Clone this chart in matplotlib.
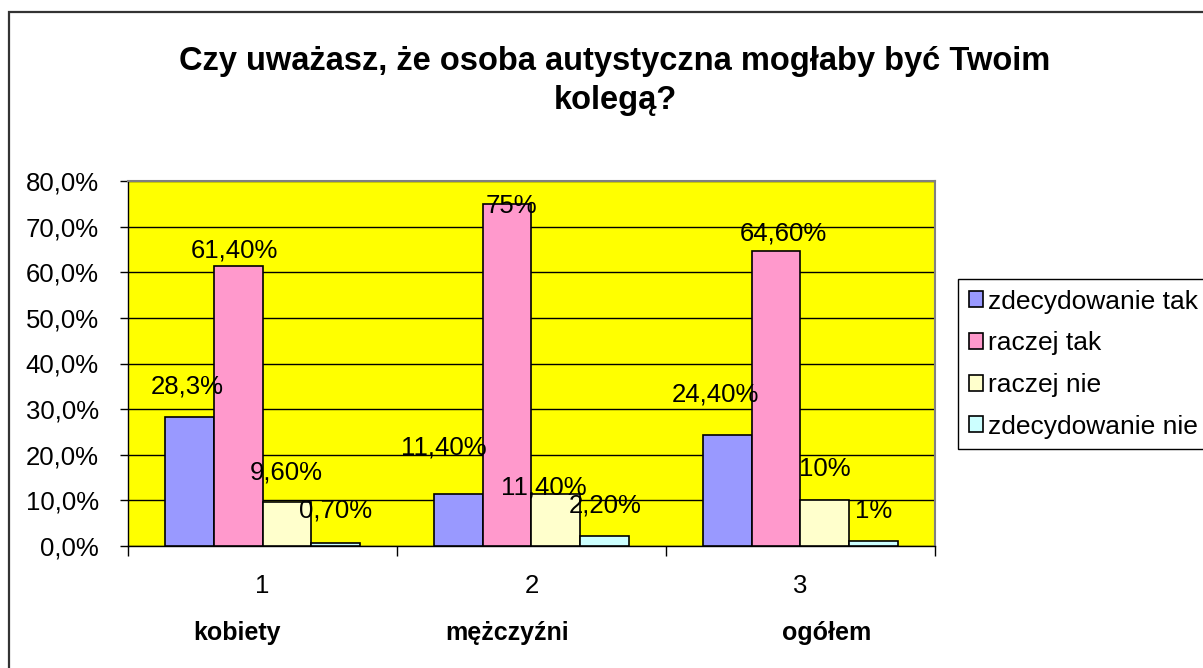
import matplotlib
matplotlib.use("Agg")
import matplotlib.pyplot as plt
from matplotlib.patches import Patch, Rectangle
from matplotlib.ticker import FixedLocator, FuncFormatter
import numpy as np

plt.rcParams['font.family'] = ['Liberation Sans', 'DejaVu Sans']

title = "Czy uważasz, że osoba autystyczna mogłaby być Twoim\nkolegą?"
groups = ["1", "2", "3"]
group_names = ["kobiety", "mężczyźni", "ogółem"]
series_names = ["zdecydowanie tak", "raczej tak", "raczej nie", "zdecydowanie nie"]
zdecydowanie_tak = [28.3, 11.4, 24.4]
raczej_tak = [61.4, 75.0, 64.6]
raczej_nie = [9.6, 11.4, 10.0]
zdecydowanie_nie = [0.7, 2.2, 1.0]
label_texts = [
    ["28,3%", "11,40%", "24,40%"],
    ["61,40%", "75%", "64,60%"],
    ["9,60%", "11,40%", "10%"],
    ["0,70%", "2,20%", "1%"],
]
y_ticks = [0, 10, 20, 30, 40, 50, 60, 70, 80]

# styling / label placement (pixels: dx, dy of label centre from bar top-centre)
colors = ["#9999FF", "#FF99CC", "#FFFFCC", "#CCFFFF"]
label_dx = [[-1.5, -14.5, -12], [-3.5, 4, 7.5], [-0.5, -12.5, 0], [-0.5, 0, 0]]
label_dy = [[30, 46, 40], [15, -2, 18], [30, 6, 31], [32, 30, 30]]

series = [zdecydowanie_tak, raczej_tak, raczej_nie, zdecydowanie_nie]

W, H = 1203, 668
fig = plt.figure(figsize=(W / 100, H / 100), dpi=100)
fig.patch.set_facecolor("white")

# outer chart border (only top and left visible)
fig.patches.append(Rectangle((9 / W, -30 / H), 1.2, (H - 12 + 30) / H,
                             transform=fig.transFigure, fill=False,
                             edgecolor="#333333", linewidth=1.6, clip_on=False))

ax = fig.add_axes([128 / W, 1 - 546 / H, (935 - 128) / W, (546 - 181) / H])
ax.set_facecolor("#FFFF00")

x = np.arange(1, len(groups) + 1)
bw = 0.182
offs = [-1.5, -0.5, 0.5, 1.5]
for i, (vals, c) in enumerate(zip(series, colors)):
    bars = ax.bar(x + offs[i] * bw, vals, width=bw, color=c, edgecolor="black",
                  linewidth=1.2, zorder=3, label=series_names[i])
    for j, b in enumerate(bars):
        ax.annotate(label_texts[i][j],
                    xy=(b.get_x() + b.get_width() / 2, b.get_height()),
                    xytext=(label_dx[i][j], label_dy[i][j]),
                    textcoords="offset pixels", ha="center", va="center",
                    fontsize=18.5, color="black", zorder=5)

ax.set_xlim(0.5, 3.5)
ax.set_ylim(0, 80)
ax.set_yticks(y_ticks)
ax.yaxis.set_major_formatter(FuncFormatter(lambda v, p: f"{v:.1f}%".replace(".", ",")))
ax.grid(axis="y", color="black", linewidth=1.0, zorder=1)
ax.set_axisbelow(True)

ax.set_xticks(x)
ax.set_xticklabels(groups)
ax.xaxis.set_minor_locator(FixedLocator([0.5, 1.5, 2.5, 3.5]))
ax.tick_params(axis="x", which="major", length=0, pad=20, labelsize=18.5)
ax.tick_params(axis="x", which="minor", length=7, width=1, direction="out")
ax.tick_params(axis="y", which="major", length=6, width=1, direction="out",
               pad=15, labelsize=18.5)

for s in ["top", "right"]:
    ax.spines[s].set_color("#808080")
    ax.spines[s].set_linewidth(1.5)
for s in ["left", "bottom"]:
    ax.spines[s].set_color("black")
    ax.spines[s].set_linewidth(1.0)

# category names under the numbers
name_x = [237, 507, 827]
for nx, name in zip(name_x, group_names):
    fig.text(nx / W, 1 - 633 / H, name, ha="center", va="center",
             fontsize=18, fontweight="bold")

fig.text(615 / W, 1 - 81 / H, title, ha="center", va="center",
         fontsize=23.5, fontweight="bold", linespacing=1.3)

handles = [Patch(facecolor=c, edgecolor="black", linewidth=1.2) for c in colors]
leg = fig.legend(handles, series_names, loc="upper left",
                 bbox_to_anchor=(958 / W, 1 - 279 / H),
                 fontsize=19, frameon=True, fancybox=False,
                 edgecolor="black", framealpha=1, borderpad=0.4,
                 handlelength=0.55, handleheight=0.55, handletextpad=0.2,
                 labelspacing=0.67, borderaxespad=0)
leg.get_frame().set_linewidth(1.0)

fig.savefig("out.png", dpi=100, facecolor="white")
